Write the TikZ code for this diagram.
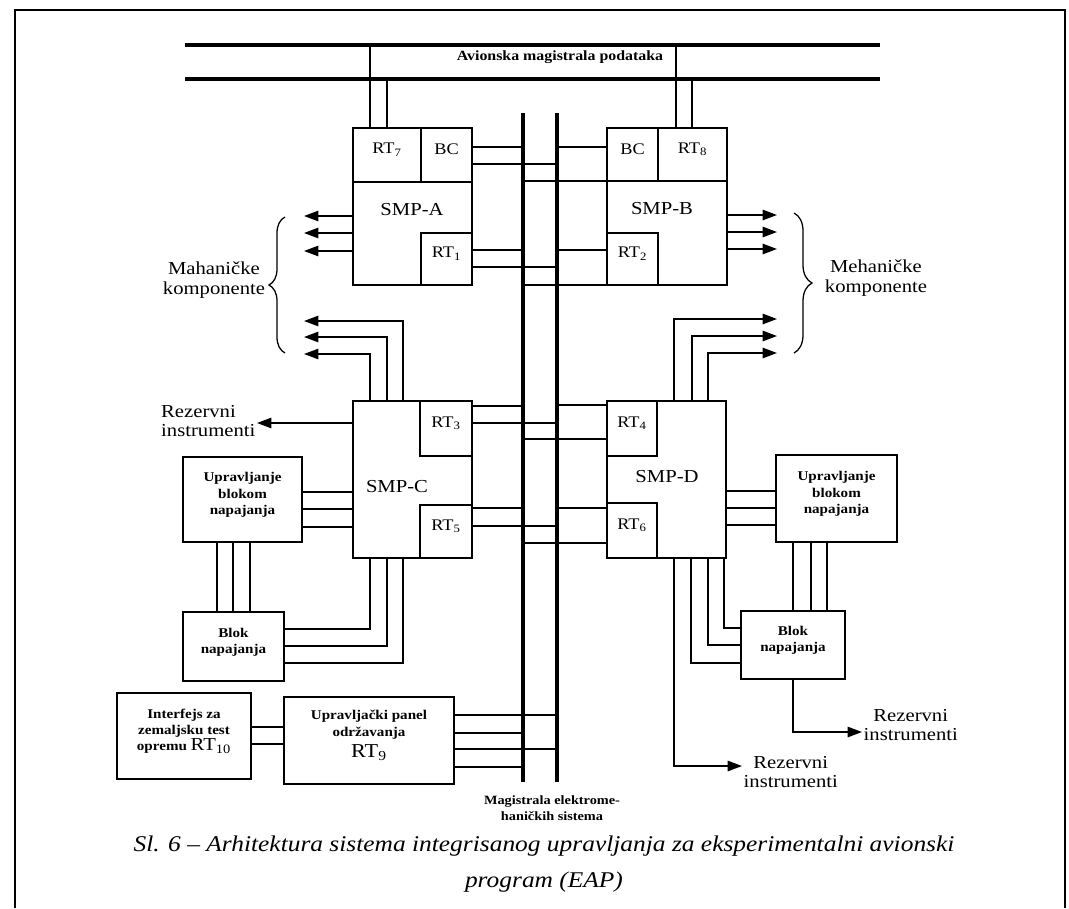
\documentclass[tikz,border=0pt]{standalone}
\usepackage{fontspec}
\setmainfont{Liberation Serif}[FakeStretch=1.13]
\usetikzlibrary{arrows.meta, positioning, fit, decorations.pathreplacing}

\begin{document}
\begin{tikzpicture}[x=0.025cm, y=-0.025cm,
    box/.style={draw=black, line width=1.3pt, inner sep=0pt},
    unit/.style={box, font=\fontsize{11.5}{13}\selectfont},
    block/.style={box, align=center, font=\bfseries\fontsize{9.5}{11.5}\selectfont},
    smplabel/.style={font=\fontsize{13}{15}\selectfont},
    lbl/.style={align=center, font=\fontsize{13}{14}\selectfont, inner sep=1pt},
    bus/.style={line width=2.2pt},
    link/.style={line width=1.15pt},
    arrow/.style={link, -{Triangle[length=0.36cm, width=0.26cm]}},
    curly/.style={line width=0.9pt, decorate, decoration={brace, amplitude=#1}}
    ]
    \useasboundingbox (0,0) rectangle (1069,908);

    % page frame
    \draw[line width=0.9pt] (15,908) -- (15,10) -- (1065,10) -- (1065,908);

    % Avionics data bus
    \coordinate (dbW) at (185,45);
    \coordinate (dbE) at (880,45);
    \coordinate (dbW2) at (185,79);
    \coordinate (dbE2) at (880,79);
    \draw[bus] (dbW) -- (dbE);
    \draw[bus] (dbW2) -- (dbE2);
    \node[font=\bfseries\fontsize{10}{12}\selectfont] (dblbl) at (560,57) {Avionska magistrala podataka};

    % Electromechanical bus
    \coordinate (emL) at (523,113);
    \coordinate (emL2) at (523,782);
    \coordinate (emR) at (557,113);
    \coordinate (emR2) at (557,782);
    \draw[bus] (emL) -- (emL2);
    \draw[bus] (emR) -- (emR2);
    \node[font=\bfseries\fontsize{9}{11}\selectfont, align=center] (emlbl) at (552,808) {Magistrala elektrome-\\haničkih sistema};

    % Processors
    \node[box, fit={(353,128) (472,285)}] (smpA) {};
    \node[unit, fit={(353,128) (421,182)}] (rt7) {RT\textsubscript{7}};
    \node[unit, fit={(421,128) (472,182)}] (bcA) {BC};
    \node[unit, fit={(421,233) (472,285)}] (rt1) {RT\textsubscript{1}};
    \node[smplabel] (smpAlbl) at (412,210) {SMP-A};

    \node[box, fit={(607,128) (727,285)}] (smpB) {};
    \node[unit, fit={(607,128) (658,181)}] (bcB) {BC};
    \node[unit, fit={(658,128) (727,181)}] (rt8) {RT\textsubscript{8}};
    \node[unit, fit={(607,233) (658,285)}] (rt2) {RT\textsubscript{2}};
    \node[smplabel] (smpBlbl) at (662,209) {SMP-B};

    \node[box, fit={(353,401) (472,558)}] (smpC) {};
    \node[unit, fit={(420,401) (472,456)}] (rt3) {RT\textsubscript{3}};
    \node[unit, fit={(420,505) (472,558)}] (rt5) {RT\textsubscript{5}};
    \node[smplabel] (smpClbl) at (397,487) {SMP-C};

    \node[box, fit={(607,401) (726,558)}] (smpD) {};
    \node[unit, fit={(607,401) (657,456)}] (rt4) {RT\textsubscript{4}};
    \node[unit, fit={(607,503) (657,558)}] (rt6) {RT\textsubscript{6}};
    \node[smplabel] (smpDlbl) at (667,477) {SMP-D};

    % Power blocks, panel, ground interface
    \node[block, fit={(183,457) (302,542)}] (uprC) {Upravljanje\\blokom\\napajanja};
    \node[block, fit={(183,612) (284,681)}] (blokC) {Blok\\napajanja};
    \node[block, fit={(776,455) (897,542)}] (uprD) {Upravljanje\\blokom\\napajanja};
    \node[block, fit={(741,611) (845,679)}] (blokD) {Blok\\napajanja};
    \node[block, align=left, fit={(117,693) (251,779)}] (gse) {Interfejs za\\zemaljsku test\\opremu \mdseries\fontsize{13}{14}\selectfont RT\textsubscript{10}};
    \node[block, fit={(284,697) (454,784)}] (panel) {Upravljački panel\\održavanja\\[4pt]{\mdseries\fontsize{14}{16}\selectfont RT\textsubscript{9}}};

    % Outside labels
    \coordinate (mkL) at (304,0);
    \coordinate (mkR) at (777,0);
    \node[lbl] (mkLlbl) at (214,280) {Mahaničke\\komponente};
    \node[lbl] (mkRlbl) at (876,278) {Mehaničke\\komponente};
    \node[lbl, align=left, anchor=east] (rezC) at (257,421) {Rezervni\\instrumenti};
    \node[lbl, anchor=west] (rezD) at (862,725) {Rezervni\\instrumenti};
    \node[lbl, anchor=west] (rezD2) at (742,772) {Rezervni\\instrumenti};

    % Data bus stubs
    \draw[link] (rt7.north -| 370,0) -- (dbW -| 370,0);
    \draw[link] (rt7.north -| 387,0) -- (dbW2 -| 387,0);
    \draw[link] (rt8.north -| 676,0) -- (dbW -| 676,0);
    \draw[link] (rt8.north -| 692,0) -- (dbW2 -| 692,0);

    % SMP-A / SMP-B to the electromechanical bus
    \draw[link] (bcA.east |- 0,147) -- (emL |- 0,147);
    \draw[link] (bcA.east |- 0,164) -- (emR |- 0,164);
    \draw[link] (rt1.east |- 0,250) -- (emL |- 0,250);
    \draw[link] (rt1.east |- 0,267) -- (emR |- 0,267);
    \draw[link] (bcB.west |- 0,147) -- (emR |- 0,147);
    \draw[link] (bcB.west |- 0,181) -- (emL |- 0,181);
    \draw[link] (rt2.west |- 0,250) -- (emR |- 0,250);
    \draw[link] (rt2.west |- 0,285) -- (emL |- 0,285);

    % SMP-C / SMP-D to the electromechanical bus
    \draw[link] (rt3.east |- 0,406) -- (emL |- 0,406);
    \draw[link] (rt3.east |- 0,423) -- (emR |- 0,423);
    \draw[link] (rt5.east |- 0,508) -- (emL |- 0,508);
    \draw[link] (rt5.east |- 0,526) -- (emR |- 0,526);
    \draw[link] (rt4.west |- 0,405) -- (emR |- 0,405);
    \draw[link] (rt4.west |- 0,439) -- (emL |- 0,439);
    \draw[link] (rt6.west |- 0,508) -- (emR |- 0,508);
    \draw[link] (rt6.west |- 0,543) -- (emL |- 0,543);

    % Mechanical components
    \draw[arrow] (smpA.west |- 0,216) -- (mkL |- 0,216);
    \draw[arrow] (smpA.west |- 0,233) -- (mkL |- 0,233);
    \draw[arrow] (smpA.west |- 0,251) -- (mkL |- 0,251);
    \draw[arrow] (smpB.east |- 0,215) -- (mkR |- 0,215);
    \draw[arrow] (smpB.east |- 0,232) -- (mkR |- 0,232);
    \draw[arrow] (smpB.east |- 0,249) -- (mkR |- 0,249);
    \draw[arrow] (smpC.north -| 403,0) |- (mkL |- 0,321);
    \draw[arrow] (smpC.north -| 387,0) |- (mkL |- 0,337);
    \draw[arrow] (smpC.north -| 370,0) |- (mkL |- 0,354);
    \draw[arrow] (smpD.north -| 674,0) |- (mkR |- 0,319);
    \draw[arrow] (smpD.north -| 692,0) |- (mkR |- 0,336);
    \draw[arrow] (smpD.north -| 708,0) |- (mkR |- 0,353);
    \draw[curly=0.4cm] (285,353) -- (285,217);
    \draw[curly=0.45cm] (794,213) -- (794,353);

    % Power supply wiring, left side
    \draw[arrow] (smpC.west |- 0,423) -- (rezC.east |- 0,423);
    \draw[link] (uprC.east |- 0,492) -- (smpC.west |- 0,492);
    \draw[link] (uprC.east |- 0,509) -- (smpC.west |- 0,509);
    \draw[link] (uprC.east |- 0,527) -- (smpC.west |- 0,527);
    \draw[link] (uprC.south -| 217,0) -- (blokC.north -| 217,0);
    \draw[link] (uprC.south -| 233,0) -- (blokC.north -| 233,0);
    \draw[link] (uprC.south -| 250,0) -- (blokC.north -| 250,0);
    \draw[link] (smpC.south -| 370,0) |- (blokC.east |- 0,629);
    \draw[link] (smpC.south -| 387,0) |- (blokC.east |- 0,646);
    \draw[link] (smpC.south -| 403,0) |- (blokC.east |- 0,663);

    % Power supply wiring, right side
    \draw[link] (smpD.east |- 0,491) -- (uprD.west |- 0,491);
    \draw[link] (smpD.east |- 0,508) -- (uprD.west |- 0,508);
    \draw[link] (smpD.east |- 0,525) -- (uprD.west |- 0,525);
    \draw[link] (uprD.south -| 793,0) -- (blokD.north -| 793,0);
    \draw[link] (uprD.south -| 811,0) -- (blokD.north -| 811,0);
    \draw[link] (uprD.south -| 827,0) -- (blokD.north -| 827,0);
    \draw[link] (smpD.south -| 724,0) |- (blokD.west |- 0,628);
    \draw[link] (smpD.south -| 708,0) |- (blokD.west |- 0,645);
    \draw[link] (smpD.south -| 691,0) |- (blokD.west |- 0,663);
    \draw[arrow] (smpD.south -| 674,0) |- (rezD2.west |- 0,766);
    \draw[arrow] (blokD.south -| 793,0) |- (rezD.west |- 0,732);

    % Maintenance panel
    \draw[link] (gse.east |- 0,727) -- (panel.west |- 0,727);
    \draw[link] (gse.east |- 0,744) -- (panel.west |- 0,744);
    \draw[link] (panel.east |- 0,715) -- (emR |- 0,715);
    \draw[link] (panel.east |- 0,733) -- (emL |- 0,733);
    \draw[link] (panel.east |- 0,749) -- (emR |- 0,749);
    \draw[link] (panel.east |- 0,767) -- (emL |- 0,767);

    % Caption
    \node[font=\itshape\fontsize{16}{26}\selectfont, align=center] (caption) at (544,864) {Sl. 6 -- Arhitektura sistema integrisanog upravljanja za eksperimentalni avionski\\program (EAP)};
\end{tikzpicture}
\end{document}
